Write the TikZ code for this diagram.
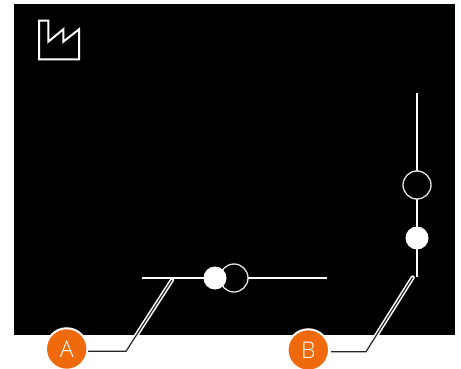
\documentclass[tikz,border=0pt]{standalone}
\usepackage{fontspec}
\setmainfont{Open Sans Light}
\definecolor{badgeorange}{HTML}{EE6A0C}
\tikzset{
  track/.style={draw=white,line width=2pt},
  opencirc/.style={circle,draw=white!90!black,line width=1.3pt,fill=black,minimum size=28pt,inner sep=0pt},
  soliddot/.style={circle,fill=white,minimum size=23pt,inner sep=0pt},
  badge/.style={circle,fill=badgeorange,draw=white,line width=2pt,minimum size=41.5pt,inner sep=0pt,text=white,font=\fontsize{23pt}{23pt}\selectfont},
  casing/.style={draw=white,line width=4.2pt,line cap=round},
  leader/.style={draw=black!85,line width=1.2pt,line join=miter},
}
\begin{document}
\begin{tikzpicture}[x=1pt,y=-1pt]
\useasboundingbox (0,0) rectangle (461,369);
\fill[white] (0,0) rectangle (461,369);
\fill[black] (14,4) rectangle (455,335);
% factory icon
\draw[white,line width=2pt,line join=miter] (39,20.7) -- (48.3,20.7) -- (48.3,41.7) -- (63.3,29.3) -- (63.3,41.7) -- (79,29.3) -- (79,59.5) -- (39,59.5) -- cycle;
% tracks
\coordinate (hl) at (142,278); \coordinate (hr) at (327,278);
\coordinate (vt) at (417,93); \coordinate (vb) at (417,277);
\draw[track] (hl) -- (hr);
\draw[track] (vt) -- (vb);
\node[opencirc] (c1) at (234,278) {};
\node[soliddot] (d1) at (215,278) {};
\node[opencirc] (c2) at (417,185) {};
\node[soliddot] (d2) at (417,238) {};
% badges
\node[badge] (A) at (66.7,349) {A};
\node[badge] (B) at (308.3,350) {B};
% leaders
\coordinate (a0) at (88,351.3); \coordinate (a1) at (126,351.3); \coordinate (a2) at (172,280);
\coordinate (b0) at (331,351.7); \coordinate (b1) at (366,351.7); \coordinate (b2) at (412.7,277.5);
\draw[casing] (a1) -- (a2);
\draw[casing] (b1) -- (b2);
\draw[leader] (a0) -- (a1) -- (a2);
\draw[leader] (b0) -- (b1) -- (b2);
\end{tikzpicture}
\end{document}
